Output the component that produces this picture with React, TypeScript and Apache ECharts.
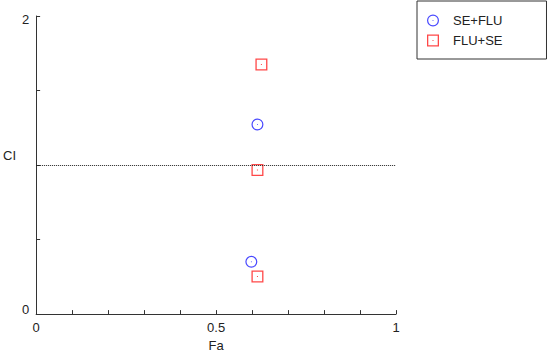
import React, { useEffect, useRef } from "react";
import * as echarts from "echarts";

const seriesNames = ["SE+FLU", "FLU+SE"];
const seFlu: [number, number][] = [
  [0.615, 1.272],
  [0.598, 0.351],
];
const fluSe: [number, number][] = [
  [0.626, 1.675],
  [0.615, 0.967],
  [0.615, 0.252],
];
const xTickLabels = [0, 0.5, 1];
const yTickLabels = [0, 2];
const referenceLevel = 1;

const ringPath =
  "path://M0,12 A12,12 0 1,1 24,12 A12,12 0 1,1 0,12 Z M2.4,12 A9.6,9.6 0 1,0 21.6,12 A9.6,9.6 0 1,0 2.4,12 Z M11,12 A1,1 0 1,1 13,12 A1,1 0 1,1 11,12 Z";
const squarePath =
  "path://M0,0 H24 V24 H0 Z M2.6,2.6 V21.4 H21.4 V2.6 Z M11,11 H13 V13 H11 Z";

const FONT = "'Liberation Sans', Arial, sans-serif";
const near = (a: number, b: number) => Math.abs(a - b) < 1e-6;

export default function App() {
  const ref = useRef<HTMLDivElement>(null);
  useEffect(() => {
    document.body.style.margin = "0";
    if (!ref.current) return;
    const chart = echarts.init(ref.current, undefined, { renderer: "svg" });
    chart.setOption({
      animation: false,
      backgroundColor: "#ffffff",
      grid: { left: 35, right: 154, top: 16, bottom: 39 },
      legend: {
        orient: "vertical",
        left: 417,
        top: 1,
        data: seriesNames,
        itemWidth: 30,
        itemHeight: 12,
        itemGap: 7,
        symbolKeepAspect: true,
        padding: [13, 44, 12, 10],
        borderColor: "#333",
        borderWidth: 1,
        backgroundColor: "#fff",
        textStyle: { fontFamily: FONT, fontSize: 13, color: "#222" },
      },
      xAxis: {
        type: "value",
        min: 0,
        max: 1,
        interval: 0.1,
        name: "Fa",
        nameLocation: "middle",
        nameGap: 16,
        nameTextStyle: { fontFamily: FONT, fontSize: 13, color: "#222" },
        splitLine: { show: false },
        axisLine: { lineStyle: { color: "#333", width: 1 } },
        axisTick: { inside: true, length: 4, lineStyle: { color: "#333" } },
        axisLabel: {
          margin: 7,
          fontFamily: FONT,
          fontSize: 13,
          color: "#222",
          showMinLabel: true,
          showMaxLabel: true,
          formatter: (v: number) => {
            const t = xTickLabels.find((x) => near(x, v));
            return t === undefined ? "" : String(t);
          },
        },
      },
      yAxis: {
        type: "value",
        min: 0,
        max: 2,
        interval: 0.5,
        name: "CI",
        nameLocation: "middle",
        nameRotate: 0,
        nameGap: 11,
        nameTextStyle: {
          fontFamily: FONT,
          fontSize: 13,
          color: "#222",
          verticalAlign: "bottom",
          padding: [0, 0, 3, 0],
        },
        splitLine: { show: false },
        axisLine: { show: true, lineStyle: { color: "#333", width: 1 } },
        axisTick: { inside: true, length: 4, lineStyle: { color: "#333" } },
        axisLabel: {
          margin: 7,
          fontFamily: FONT,
          fontSize: 13,
          color: "#222",
          showMinLabel: true,
          showMaxLabel: true,
          formatter: (v: number) => {
            if (near(v, yTickLabels[0])) return "{b|" + yTickLabels[0] + "}";
            if (near(v, yTickLabels[1])) return "{t|" + yTickLabels[1] + "}";
            return "";
          },
          rich: {
            b: { fontFamily: FONT, fontSize: 13, color: "#222", padding: [0, 0, 10, 0] },
            t: { fontFamily: FONT, fontSize: 13, color: "#222", padding: [6, 0, 0, 0] },
          },
        },
      },
      series: [
        {
          name: seriesNames[0],
          type: "scatter",
          data: seFlu,
          symbol: ringPath,
          symbolSize: 12,
          itemStyle: { color: "#1a1aff" },
          z: 3,
          markLine: {
            silent: true,
            symbol: ["none", "none"],
            label: { show: false },
            lineStyle: { type: [1, 1], color: "#222", width: 1 },
            data: [{ yAxis: referenceLevel }],
          },
        },
        {
          name: seriesNames[1],
          type: "scatter",
          data: fluSe,
          symbol: squarePath,
          symbolSize: 12,
          itemStyle: { color: "#ff1a1a" },
          z: 3,
        },
      ],
    });
    return () => chart.dispose();
  }, []);
  return <div ref={ref} style={{ width: 550, height: 357 }} />;
}
